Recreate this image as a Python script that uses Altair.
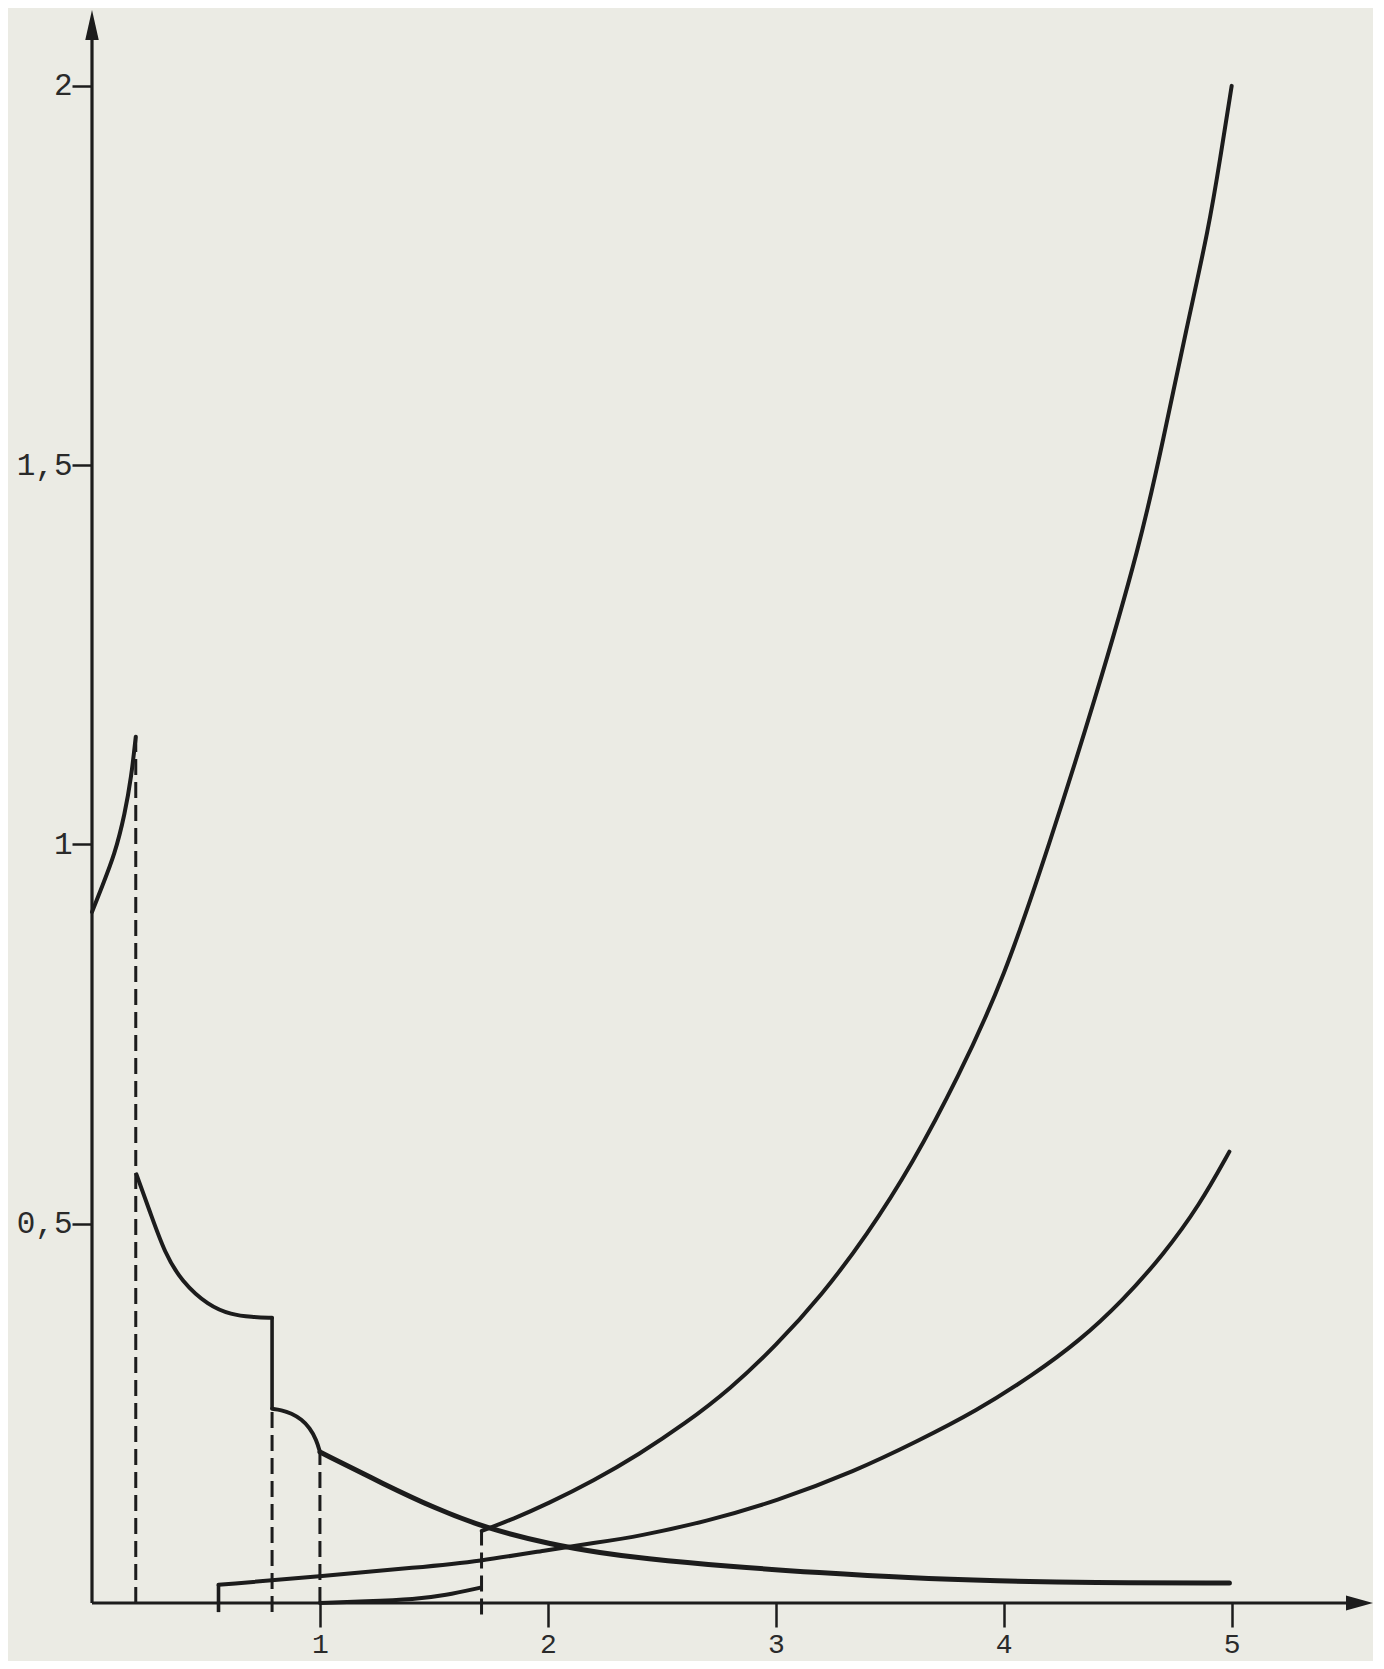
import altair as alt
import pandas as pd

# ---------------- data ----------------
# rising branch near the origin
a_x = [0.0, 0.042, 0.100, 0.144, 0.173, 0.192]
a_y = [0.911, 0.943, 0.987, 1.040, 1.090, 1.142]

# decreasing branch after the first jump
b_x = [0.195, 0.261, 0.320, 0.393, 0.510, 0.612, 0.700, 0.790]
b_y = [0.565, 0.510, 0.461, 0.424, 0.392, 0.380, 0.377, 0.376]

# short rounded branch between 0.79 and 1
g_x = [0.790, 0.830, 0.875, 0.920, 0.955, 0.985, 1.000]
g_y = [0.256, 0.2545, 0.250, 0.242, 0.231, 0.215, 0.199]

# long decreasing tail
e_x = [1.0, 1.285, 1.504, 1.724, 2.016, 2.236, 2.408, 2.8, 3.19, 3.58, 3.975, 4.37, 4.99]
e_y = [0.199, 0.156, 0.125, 0.099, 0.077, 0.066, 0.059, 0.048, 0.040, 0.033, 0.029, 0.0265, 0.0265]

# steep increasing curve
c_x = [1.71, 1.85, 2.0, 2.2, 2.4, 2.6, 2.8, 3.0, 3.2, 3.4, 3.6, 3.8, 4.0, 4.2, 4.4,
       4.6, 4.7, 4.8, 4.9, 4.95, 5.0]
c_y = [0.095, 0.111, 0.131, 0.161, 0.196, 0.236, 0.282, 0.339, 0.405, 0.485, 0.579,
       0.693, 0.822, 1.000, 1.190, 1.397, 1.534, 1.678, 1.813, 1.905, 2.0]

# flatter increasing curve
d_x = [0.555, 1.0, 1.43, 1.7, 2.0, 2.2, 2.4, 2.7, 3.0, 3.35, 3.62, 3.88, 4.13, 4.33,
       4.52, 4.70, 4.86, 4.99]
d_y = [0.024, 0.035, 0.047, 0.055, 0.070, 0.079, 0.088, 0.108, 0.134, 0.174, 0.213,
       0.253, 0.301, 0.345, 0.398, 0.459, 0.525, 0.595]

# small curve starting at x = 1
f_x = [1.0, 1.2, 1.42, 1.55, 1.70]
f_y = [0.0, 0.002, 0.005, 0.010, 0.020]

# vertical segments (x, y_from, y_to)
solid_vx = [0.790, 0.555]
solid_vy1 = [0.376, -0.012]
solid_vy2 = [0.256, 0.024]

dash_vx = [0.192, 0.790, 1.000, 1.709]
dash_vy1 = [0.0, -0.012, 0.0, -0.015]
dash_vy2 = [1.142, 0.256, 0.199, 0.095]

# axes
x_tick_values = [1, 2, 3, 4, 5]
y_tick_values = [0.5, 1, 1.5, 2]
y_tick_labels = ["0,5", "1", "1,5", "2"]
x_max = 5.62
y_max = 2.1

# ---------------- build tables ----------------
rows = []
for name, xs, ys in [("A", a_x, a_y), ("B", b_x, b_y), ("G", g_x, g_y),
                     ("C", c_x, c_y), ("D", d_x, d_y), ("F", f_x, f_y)]:
    for i, (xv, yv) in enumerate(zip(xs, ys)):
        rows.append({"seg": name, "i": i, "x": xv, "y": yv})
curves = pd.DataFrame(rows)
tail = pd.DataFrame({"seg": "E", "i": range(len(e_x)), "x": e_x, "y": e_y})

solid_v = pd.DataFrame({"x": solid_vx, "y": solid_vy1, "y2": solid_vy2})
dash_v = pd.DataFrame({"x": dash_vx, "y": dash_vy1, "y2": dash_vy2})

axis_lines_v = pd.DataFrame({"x": [0.0], "y": [0.0], "y2": [y_max - 0.02]})
axis_lines_h = pd.DataFrame({"x": [0.0], "x2": [x_max - 0.05], "y": [0.0]})
arrow_up = pd.DataFrame({"x": [0.0], "y": [y_max - 0.0198]})
arrow_right = pd.DataFrame({"x": [x_max - 0.0593], "y": [0.0]})

INK = "#1c1c1c"
xs_ = alt.Scale(domain=[0, x_max], nice=False, zero=False)
ys_ = alt.Scale(domain=[0, y_max], nice=False, zero=False)

label_expr = " : ".join(
    f"datum.value == {v} ? '{l}'" for v, l in zip(y_tick_values, y_tick_labels)
) + " : ''"

x_axis = alt.Axis(values=x_tick_values, title=None, domain=False, grid=False,
                  tickSize=24, tickWidth=2.5, tickColor=INK, labelFont="Liberation Mono",
                  labelFontSize=28, labelColor="#2a2a2a", labelPadding=3,
                  format="d")
y_axis = alt.Axis(values=y_tick_values, title=None, domain=False, grid=False,
                  tickSize=20, tickWidth=2.5, tickColor=INK, labelFont="Liberation Mono",
                  labelFontSize=31, labelColor="#2a2a2a", labelPadding=0,
                  labelExpr=label_expr)


def X(f="x"):
    return alt.X(f, type="quantitative", scale=xs_, axis=x_axis)


def Y(f="y"):
    return alt.Y(f, type="quantitative", scale=ys_, axis=y_axis)


curve_layer = alt.Chart(curves).mark_line(
    color=INK, strokeWidth=4, interpolate="basis", strokeCap="round"
).encode(x=X(), y=Y(), detail="seg:N", order="i:Q")

tail_layer = alt.Chart(tail).mark_line(
    color=INK, strokeWidth=5, interpolate="basis", strokeCap="round"
).encode(x=X(), y=Y(), detail="seg:N", order="i:Q")

solid_layer = alt.Chart(solid_v).mark_rule(color=INK, strokeWidth=3.6).encode(
    x=X(), y=Y(), y2="y2:Q")

dash_layer = alt.Chart(dash_v).mark_rule(
    color=INK, strokeWidth=3, strokeDash=[16, 7]).encode(x=X(), y=Y(), y2="y2:Q")

yaxis_layer = alt.Chart(axis_lines_v).mark_rule(color=INK, strokeWidth=3.2).encode(
    x=X(), y=Y(), y2="y2:Q")
xaxis_layer = alt.Chart(axis_lines_h).mark_rule(color=INK, strokeWidth=3.2).encode(
    x=X(), x2="x2:Q", y=Y())

arrow_up_layer = alt.Chart(arrow_up).mark_point(
    shape="M0,-1L0.45,1L-0.45,1Z", size=900, filled=True, color=INK, opacity=1
).encode(x=X(), y=Y())
arrow_right_layer = alt.Chart(arrow_right).mark_point(
    shape="M1,0L-1,-0.55L-1,0.55Z", size=729, filled=True, color=INK, opacity=1
).encode(x=X(), y=Y())

chart = alt.layer(
    yaxis_layer, xaxis_layer, dash_layer, solid_layer, curve_layer, tail_layer,
    arrow_up_layer, arrow_right_layer
).properties(
    width=1281, height=1593,
    autosize=alt.AutoSizeParams(type="none"),
    padding={"left": 84, "top": 2, "right": 0, "bottom": 58},
    background="#ebebe4",
).configure_view(strokeWidth=0)

chart.save("out.html", embed_options={"renderer": "svg", "actions": False})
